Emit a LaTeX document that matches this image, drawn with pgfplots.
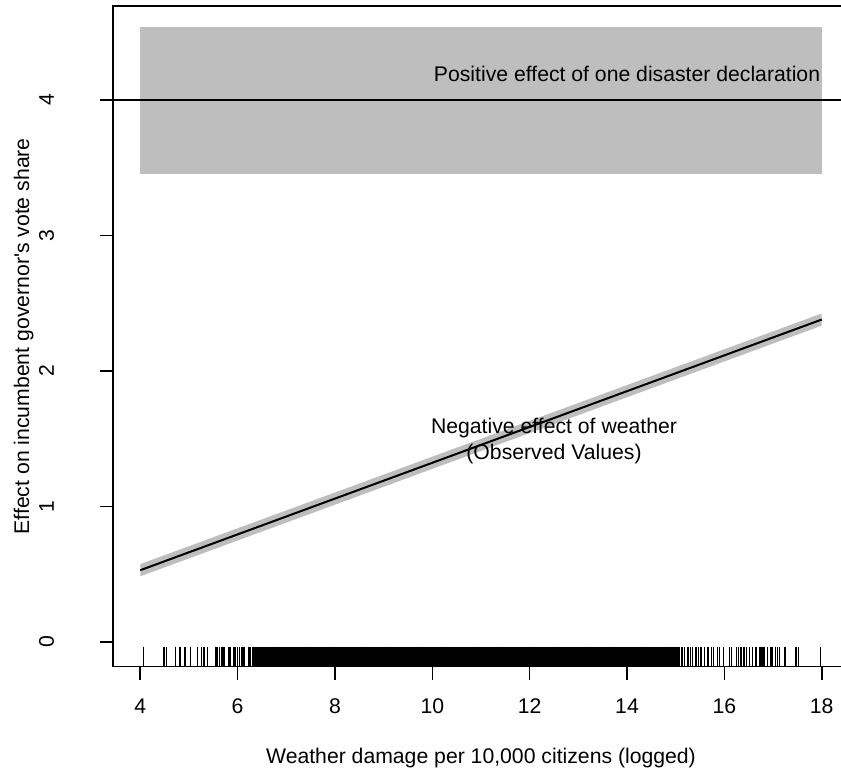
\documentclass[border=0pt]{standalone}
\usepackage{pgfplots}
\pgfplotsset{compat=1.18}
\usepackage{fontspec}
\setmainfont{Liberation Sans}
\definecolor{rgray}{RGB}{190,190,190}
\newcommand{\rfont}{\fontsize{10.6}{12.7}\selectfont}

\begin{document}
\begin{tikzpicture}
\begin{axis}[
  scale only axis, width=368pt, height=330.35pt,
  xmin=3.44, xmax=18.56, ymin=-0.182, ymax=4.694,
  axis line style={line width=0.8pt},
  xtick={4,6,...,18}, ytick={0,1,2,3,4},
  tick pos=left, tick align=outside, major tick length=6.5pt,
  tick style={line width=0.8pt, black},
  /pgf/number format/assume math mode=true,
  tick label style={font=\rfont},
  xticklabel style={anchor=base}, xticklabel shift=16.8pt,
  yticklabel style={rotate=90, anchor=base}, yticklabel shift=23.1pt,
  xlabel={Weather damage per 10,000 citizens (logged)},
  ylabel={Effect on incumbent governor\textquotesingle s vote share},
  label style={font=\rfont},
  xlabel style={at={(axis description cs:0.5,-0.1458)}, anchor=base},
  ylabel style={at={(axis description cs:-0.1141,0.5)}, anchor=base},
]
% effect of one disaster declaration, with its interval
\addplot[fill=rgray, draw=none] coordinates {(4,3.454) (18,3.454) (18,4.541) (4,4.541)} -- cycle;
\addplot[black, line width=0.8pt] coordinates {(3.44,4) (18.56,4)};

% effect of weather, with its interval
\addplot[fill=rgray, draw=none] coordinates {(4,0.485) (18,2.335) (18,2.425) (4,0.575)} -- cycle;
\addplot[black, line width=1pt] coordinates {(4,0.53) (18,2.38)};

\node[font=\rfont, anchor=base] at (axis cs:14,4.135) {Positive effect of one disaster declaration};
\node[font=\rfont, anchor=base] at (axis cs:12.5,1.537) {Negative effect of weather};
\node[font=\rfont, anchor=base] at (axis cs:12.5,1.349) {(Observed Values)};

% rug, sparse tails
\addplot[only marks, mark=|, mark size=5pt, mark options={line width=0.7pt, black}] coordinates {
(4.07,-0.108) (4.49,-0.108) (4.54,-0.108) (4.72,-0.108) (4.82,-0.108) (4.92,-0.108) (5.03,-0.108)
(5.18,-0.108) (5.26,-0.108) (5.31,-0.108) (5.38,-0.108) (5.54,-0.108) (5.58,-0.108) (5.63,-0.108)
(5.68,-0.108) (5.72,-0.108) (5.82,-0.108) (5.86,-0.108) (5.91,-0.108) (5.95,-0.108) (6.00,-0.108)
(6.04,-0.108) (6.09,-0.108) (6.13,-0.108) (6.23,-0.108) (6.27,-0.108) (6.32,-0.108)
(15.08,-0.108) (15.13,-0.108) (15.18,-0.108) (15.25,-0.108) (15.30,-0.108) (15.35,-0.108) (15.42,-0.108)
(15.47,-0.108) (15.52,-0.108) (15.59,-0.108) (15.66,-0.108) (15.73,-0.108) (15.78,-0.108) (15.86,-0.108)
(15.90,-0.108) (15.98,-0.108) (16.10,-0.108) (16.15,-0.108) (16.25,-0.108) (16.29,-0.108) (16.34,-0.108)
(16.40,-0.108) (16.46,-0.108) (16.51,-0.108) (16.58,-0.108) (16.65,-0.108) (16.73,-0.108) (16.77,-0.108)
(16.80,-0.108) (16.83,-0.108) (16.89,-0.108) (16.96,-0.108) (16.99,-0.108) (17.05,-0.108) (17.09,-0.108)
(17.13,-0.108) (17.23,-0.108) (17.25,-0.108) (17.47,-0.108) (17.52,-0.108) (17.98,-0.108)
};
% rug, dense middle
\addplot[only marks, mark=|, mark size=5pt, mark options={line width=1.4pt, black}] coordinates {
(6.35,-0.108) (6.40,-0.108) (6.45,-0.108) (6.50,-0.108) (6.55,-0.108) (6.60,-0.108) (6.65,-0.108)
(6.70,-0.108) (6.75,-0.108) (6.80,-0.108) (6.85,-0.108) (6.90,-0.108) (6.95,-0.108)
(7.00,-0.108) (7.05,-0.108) (7.10,-0.108) (7.15,-0.108) (7.20,-0.108) (7.25,-0.108) (7.30,-0.108)
(7.35,-0.108) (7.40,-0.108) (7.45,-0.108) (7.50,-0.108) (7.55,-0.108) (7.60,-0.108) (7.65,-0.108)
(7.70,-0.108) (7.75,-0.108) (7.80,-0.108) (7.85,-0.108) (7.90,-0.108) (7.95,-0.108)
(8.00,-0.108) (8.05,-0.108) (8.10,-0.108) (8.15,-0.108) (8.20,-0.108) (8.25,-0.108) (8.30,-0.108)
(8.35,-0.108) (8.40,-0.108) (8.45,-0.108) (8.50,-0.108) (8.55,-0.108) (8.60,-0.108) (8.65,-0.108)
(8.70,-0.108) (8.75,-0.108) (8.80,-0.108) (8.85,-0.108) (8.90,-0.108) (8.95,-0.108)
(9.00,-0.108) (9.05,-0.108) (9.10,-0.108) (9.15,-0.108) (9.20,-0.108) (9.25,-0.108) (9.30,-0.108)
(9.35,-0.108) (9.40,-0.108) (9.45,-0.108) (9.50,-0.108) (9.55,-0.108) (9.60,-0.108) (9.65,-0.108)
(9.70,-0.108) (9.75,-0.108) (9.80,-0.108) (9.85,-0.108) (9.90,-0.108) (9.95,-0.108)
(10.00,-0.108) (10.05,-0.108) (10.10,-0.108) (10.15,-0.108) (10.20,-0.108) (10.25,-0.108) (10.30,-0.108)
(10.35,-0.108) (10.40,-0.108) (10.45,-0.108) (10.50,-0.108) (10.55,-0.108) (10.60,-0.108) (10.65,-0.108)
(10.70,-0.108) (10.75,-0.108) (10.80,-0.108) (10.85,-0.108) (10.90,-0.108) (10.95,-0.108)
(11.00,-0.108) (11.05,-0.108) (11.10,-0.108) (11.15,-0.108) (11.20,-0.108) (11.25,-0.108) (11.30,-0.108)
(11.35,-0.108) (11.40,-0.108) (11.45,-0.108) (11.50,-0.108) (11.55,-0.108) (11.60,-0.108) (11.65,-0.108)
(11.70,-0.108) (11.75,-0.108) (11.80,-0.108) (11.85,-0.108) (11.90,-0.108) (11.95,-0.108)
(12.00,-0.108) (12.05,-0.108) (12.10,-0.108) (12.15,-0.108) (12.20,-0.108) (12.25,-0.108) (12.30,-0.108)
(12.35,-0.108) (12.40,-0.108) (12.45,-0.108) (12.50,-0.108) (12.55,-0.108) (12.60,-0.108) (12.65,-0.108)
(12.70,-0.108) (12.75,-0.108) (12.80,-0.108) (12.85,-0.108) (12.90,-0.108) (12.95,-0.108)
(13.00,-0.108) (13.05,-0.108) (13.10,-0.108) (13.15,-0.108) (13.20,-0.108) (13.25,-0.108) (13.30,-0.108)
(13.35,-0.108) (13.40,-0.108) (13.45,-0.108) (13.50,-0.108) (13.55,-0.108) (13.60,-0.108) (13.65,-0.108)
(13.70,-0.108) (13.75,-0.108) (13.80,-0.108) (13.85,-0.108) (13.90,-0.108) (13.95,-0.108)
(14.00,-0.108) (14.05,-0.108) (14.10,-0.108) (14.15,-0.108) (14.20,-0.108) (14.25,-0.108) (14.30,-0.108)
(14.35,-0.108) (14.40,-0.108) (14.45,-0.108) (14.50,-0.108) (14.55,-0.108) (14.60,-0.108) (14.65,-0.108)
(14.70,-0.108) (14.75,-0.108) (14.80,-0.108) (14.85,-0.108) (14.90,-0.108) (14.95,-0.108)
(15.00,-0.108) (15.04,-0.108)
};
\end{axis}
\pgfresetboundingbox
\useasboundingbox (-56.5pt,-51.65pt) rectangle (364pt,333.35pt);
\end{tikzpicture}
\end{document}
